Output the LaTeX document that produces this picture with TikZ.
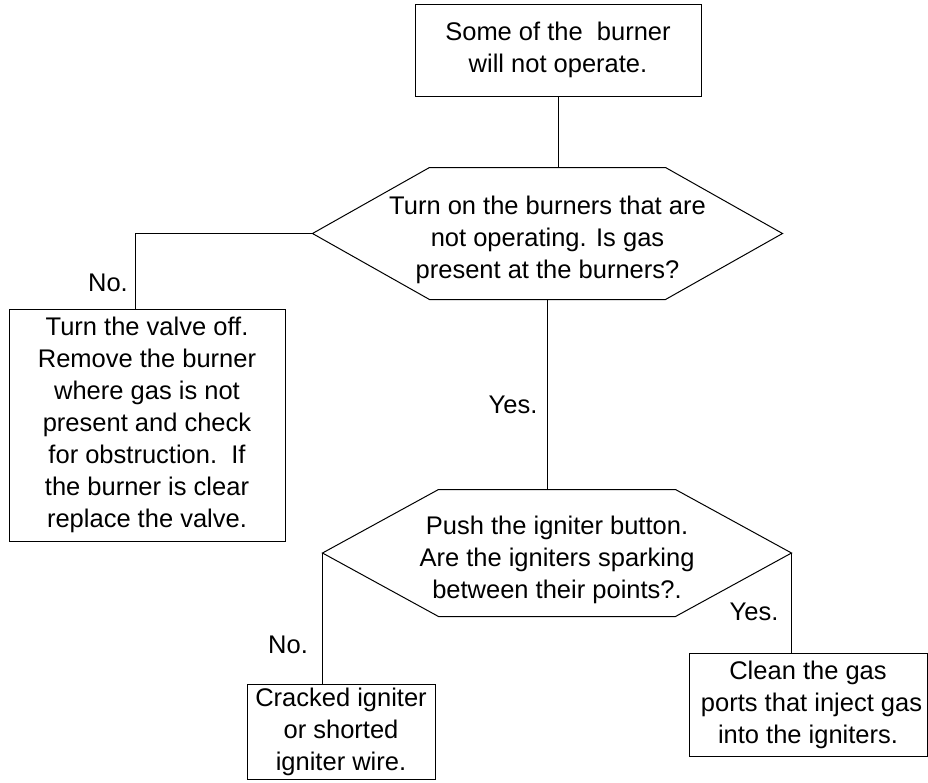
\documentclass[tikz,border=0pt]{standalone}
\usepackage{fontspec}
\setmainfont{Liberation Sans}

\tikzset{
  box/.style={draw, inner sep=0pt, align=center, font=\fontsize{25.5}{32}\selectfont},
  query/.style={inner sep=0pt, align=center, font=\fontsize{25.5}{32}\selectfont},
  answer/.style={inner sep=0pt, font=\fontsize{25.5}{32}\selectfont}
}

\begin{document}
\begin{tikzpicture}[x=1pt,y=-1pt,line width=1pt]
          \useasboundingbox (0,0) rectangle (928,782);
          % boxes and questions
          \node[box,minimum width=286,minimum height=92] (start) at (558,50) {Some of the\ \ burner\\will not operate.};
          \node[query,minimum width=469,minimum height=131] (gas) at (547.5,233.5) {\rule{0pt}{32pt}Turn on the burners that are\\not operating. Is gas\\present at the burners?};
          \node[box,minimum width=276,minimum height=232] (valve) at (147,425) {Turn the valve off.\\Remove the burner\\where gas is not\\present and check\\for obstruction.\ \ If\\the burner is clear\\replace the valve.};
          \node[query,minimum width=468,minimum height=126] (spark) at (557,553) {\rule{0pt}{32pt}Push the igniter button.\\Are the igniters sparking\\between their points?.};
          \node[box,minimum width=188,minimum height=95] (igniter) at (341,731.5) {Cracked igniter\\or shorted\\igniter wire.};
          \node[box,minimum width=238,minimum height=103] (ports) at (808,704.5) {Clean the gas\\\ ports that inject gas\\into the igniters.};
          \foreach \q/\c in {gas/117,spark/116}
            \draw (\q.west) -- ([xshift=\c]\q.north west) -- ([xshift=-\c]\q.north east) -- (\q.east)
              -- ([xshift=-\c]\q.south east) -- ([xshift=\c]\q.south west) -- cycle;
          % connectors
          \draw (start.south) -- (start.south |- gas.north);
          \draw (gas.west) -| ([xshift=-12]valve.north);
          \draw (gas.south) -- (gas.south |- spark.north);
          \draw (spark.west) -- (spark.west |- igniter.north);
          \draw (spark.east) -- (spark.east |- ports.north);
          % answers
          \node[answer] (no1) at (108,283) {No.};
          \node[answer] (yes1) at (513,405) {Yes.};
          \node[answer] (no2) at (288,645) {No.};
          \node[answer] (yes2) at (754,612) {Yes.};
        \end{tikzpicture}
\end{document}
